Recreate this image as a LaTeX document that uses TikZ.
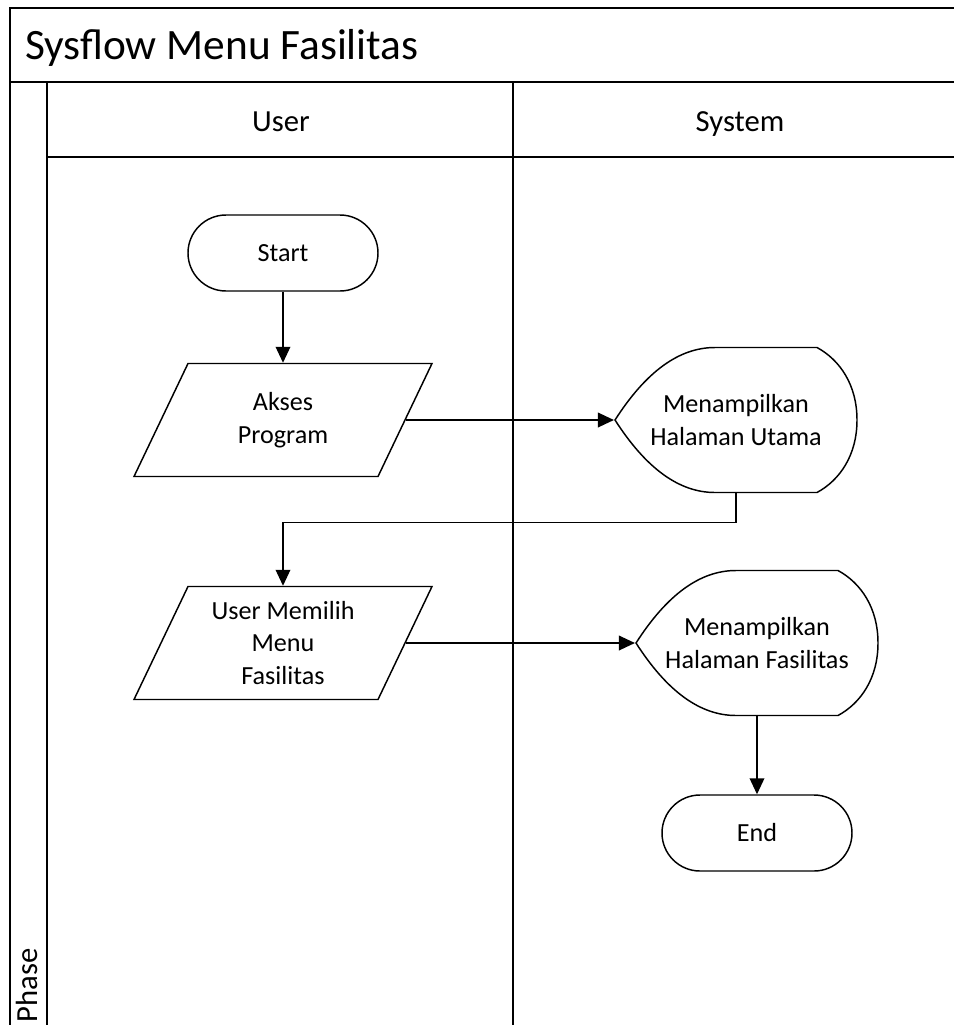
\documentclass[tikz,border=0pt]{standalone}
\usepackage{fontspec}
\setmainfont{Carlito}
\usetikzlibrary{arrows.meta}
\begin{document}
\begin{tikzpicture}[x=0.75pt, y=-0.75pt, line width=1.1pt,
  >={Triangle[length=12pt,width=11pt]},
  txt/.style={font=\fontsize{19.6}{24.5}\selectfont, align=center},
  head/.style={font=\fontsize{23}{27}\selectfont},
  term/.style={txt, draw, rectangle, rounded corners=28.5pt, minimum width=142.5pt, minimum height=57pt},
  io/.style={txt, rectangle, minimum width=183pt, minimum height=84.75pt},
  disp/.style={txt, rectangle, minimum width=182pt, minimum height=108.75pt}]
\useasboundingbox (0,0) rectangle (954,1025);
% pool and lanes
\draw (10,1025)--(10,8)--(954,8);
\draw (10,82)--(954,82);
\draw (47,1025)--(47,82);
\draw (47,157)--(954,157);
\draw (513,82)--(513,1025);
\node[anchor=base west, font=\fontsize{32.5}{36}\selectfont] (title) at (20,59) {Sysflow Menu Fasilitas};
\node[head, anchor=base] (user) at (281,131) {User};
\node[head, anchor=base] (system) at (740,131) {System};
\node[head, rotate=90, anchor=base west, inner sep=0] (phase) at (37,1023) {Phase};
% flow
\node[term] (start) at (283,253) {Start};
\node[io] (akses) at (283,420) {Akses\\Program};
\node[disp] (utama) at (736,420) {Menampilkan\\Halaman Utama};
\node[io] (memilih) at (283,643) {User Memilih\\Menu\\Fasilitas};
\node[disp] (fasil) at (757,643) {Menampilkan\\Halaman Fasilitas};
\node[term] (end) at (757,833) {End};
% outlines
\foreach \n in {akses,memilih}
  \draw[shift={(\n.center)}] (-149,56.5)--(-95,-56.5)--(149,-56.5)--(95,56.5)--cycle;
\foreach \n in {utama,fasil}
  \draw[shift={(\n.center)}] (-121,0) .. controls (-90,-48.3) and (-57,-72.5) .. (-21,-72.5)
    -- (81,-72.5) .. controls (104,-60) and (121,-35) .. (121,0)
    .. controls (121,35) and (104,60) .. (81,72.5) -- (-21,72.5)
    .. controls (-57,72.5) and (-90,48.3) .. (-121,0) -- cycle;
% connectors
\draw[->] (start)--(akses);
\draw[->] (akses)--(utama);
\draw[->] (utama.south)--++(0,29)-|(memilih);
\draw[->] (memilih)--(fasil);
\draw[->] (fasil)--(end);
\end{tikzpicture}
\end{document}
